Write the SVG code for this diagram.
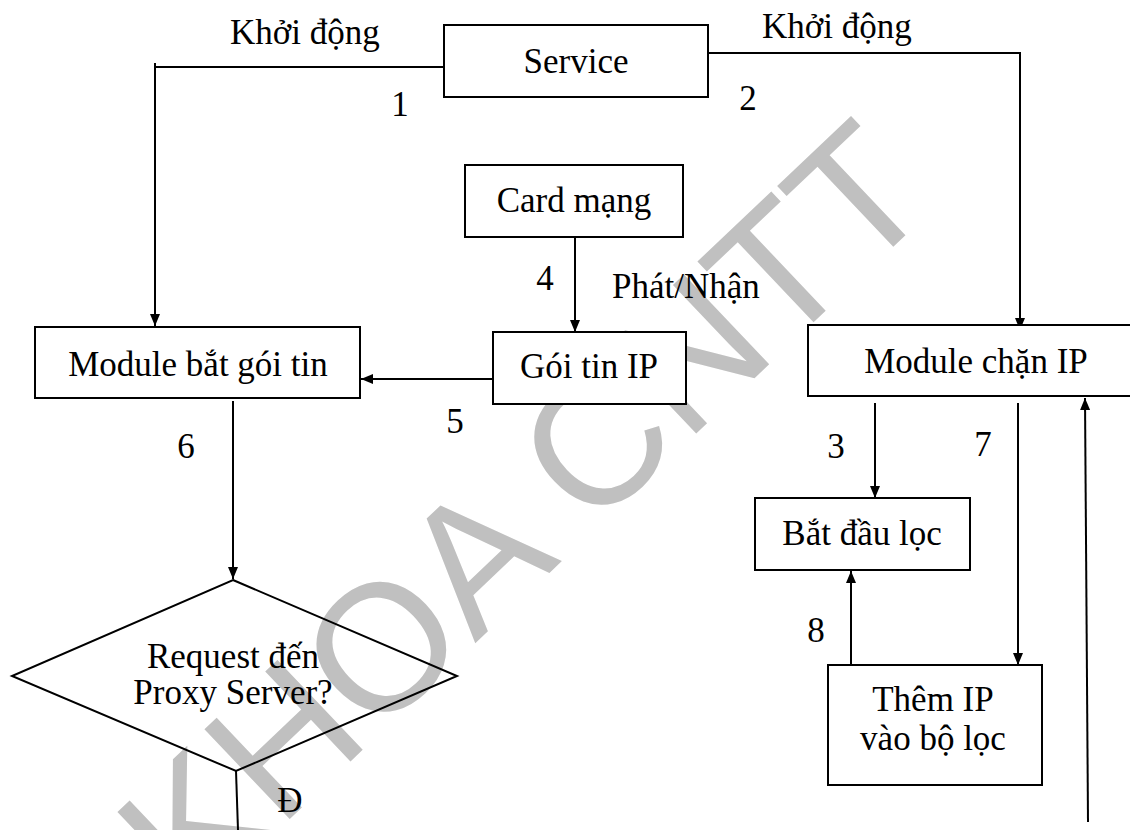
<svg xmlns="http://www.w3.org/2000/svg" width="1130" height="830" viewBox="0 0 1130 830">
<defs>
<style>
.box{fill:#fff;stroke:#000;stroke-width:2}
.dia{fill:none;stroke:#000;stroke-width:2}
.t{font-family:"Liberation Serif","Times New Roman",serif;font-size:35px;fill:#000}
.m{text-anchor:middle}
.ln{fill:none;stroke:#000;stroke-width:2}
.wm{font-family:"Liberation Sans",Arial,sans-serif;font-size:180px;fill:#c0c0c0}
</style>
<marker id="ah" viewBox="0 0 12 10" refX="12" refY="5" markerWidth="12" markerHeight="10" markerUnits="userSpaceOnUse" orient="auto">
<path d="M0,0 L12,5 L0,10 z" fill="#000"/>
</marker>
</defs>
<rect width="1130" height="830" fill="#fff"/>
<text class="wm" transform="translate(192,912) rotate(-43.5)">KHOA CNTT</text>
<g id="connectors">
<path class="ln" d="M444,67 H155 M155,63 V326" marker-end="url(#ah)"/>
<path class="ln" d="M705,53 H1020 V330" marker-end="url(#ah)"/>
<path class="ln" d="M575,237 V332" marker-end="url(#ah)"/>
<path class="ln" d="M493,379 H361" marker-end="url(#ah)"/>
<path class="ln" d="M233,401 V579" marker-end="url(#ah)"/>
<path class="ln" d="M236,771 L238,830"/>
<path class="ln" d="M875,403 V498" marker-end="url(#ah)"/>
<path class="ln" d="M1018,403 V665" marker-end="url(#ah)"/>
<path class="ln" d="M851,665 V571" marker-end="url(#ah)"/>
<path class="ln" d="M1088,822 L1085,398" marker-end="url(#ah)"/>
</g>
<g id="labels">
<text class="t" x="230" y="44">Khởi động</text>
<text class="t" x="762" y="38">Khởi động</text>
<text class="t m" x="400" y="116">1</text>
<text class="t m" x="748" y="110">2</text>
<text class="t m" x="545" y="290">4</text>
<text class="t" x="612" y="298">Phát/Nhận</text>
<text class="t m" x="455" y="433">5</text>
<text class="t m" x="186" y="458">6</text>
<text class="t m" x="836" y="458">3</text>
<text class="t m" x="983" y="456">7</text>
<text class="t m" x="816" y="642">8</text>
<text class="t m" x="290" y="812">Đ</text>
</g>
<g id="service"><rect class="box" x="444" y="25" width="264" height="72"/><text class="t m" x="576" y="73">Service</text></g>
<g id="card"><rect class="box" x="465" y="165" width="218" height="72"/><text class="t m" x="574" y="212">Card mạng</text></g>
<g id="goitin"><rect class="box" x="493" y="332" width="193" height="72"/><text class="t m" x="589" y="378">Gói tin IP</text></g>
<g id="batgoi"><rect class="box" x="35" y="327" width="325" height="71"/><text class="t m" x="198" y="376">Module bắt gói tin</text></g>
<g id="decision"><polygon class="dia" points="233,580 457,676 236,771 12,676"/><text class="t m" x="233" y="668">Request đến</text><text class="t m" x="233" y="704">Proxy Server?</text></g>
<g id="chanip"><rect class="box" x="808" y="325" width="330" height="71"/><text class="t m" x="976" y="373">Module chặn IP</text></g>
<g id="batdau"><rect class="box" x="755" y="498" width="215" height="72"/><text class="t m" x="862" y="545">Bắt đầu lọc</text></g>
<g id="them"><rect class="box" x="828" y="665" width="214" height="120"/><text class="t m" x="933" y="711">Thêm IP</text><text class="t m" x="933" y="750">vào bộ lọc</text></g>
</svg>
